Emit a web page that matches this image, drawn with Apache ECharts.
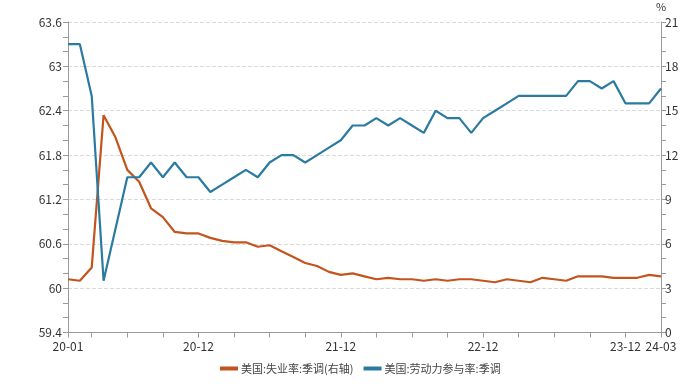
<!DOCTYPE html>
<html><head><meta charset="utf-8">
<script src="https://cdn.jsdelivr.net/npm/echarts@6/dist/echarts.min.js"></script>
<style>html,body{margin:0;padding:0;background:#fff}#c{width:685px;height:390px}</style>
</head><body><div id="c"></div>
<script>
const categories = (function(){const a=[];for(let y=20;y<=24;y++){for(let m=1;m<=12;m++){if(y===24&&m>3)break;a.push(y+'-'+String(m).padStart(2,'0'));}}return a;})();
const labelIdx = [0, 11, 23, 35, 47, 50];
const unemployment = [3.6,3.5,4.4,14.7,13.2,11.0,10.2,8.4,7.8,6.8,6.7,6.7,
  6.4,6.2,6.1,6.1,5.8,5.9,5.5,5.1,4.7,4.5,4.1,3.9,
  4.0,3.8,3.6,3.7,3.6,3.6,3.5,3.6,3.5,3.6,3.6,3.5,
  3.4,3.6,3.5,3.4,3.7,3.6,3.5,3.8,3.8,3.8,3.7,3.7,
  3.7,3.9,3.8];
const participation = [63.3,63.3,62.6,60.1,60.8,61.5,61.5,61.7,61.5,61.7,61.5,61.5,
  61.3,61.4,61.5,61.6,61.5,61.7,61.8,61.8,61.7,61.8,61.9,62.0,
  62.2,62.2,62.3,62.2,62.3,62.2,62.1,62.4,62.3,62.3,62.1,62.3,
  62.4,62.5,62.6,62.6,62.6,62.6,62.6,62.8,62.8,62.7,62.8,62.5,
  62.5,62.5,62.7];
const leftTicks = {min:59.4, max:63.6, interval:0.6};
const rightTicks = {min:0, max:21, interval:3};

const font = '"Noto Sans CJK SC", "Noto Sans", sans-serif';
const axisGrey = '#9a9a9a';
const chart = echarts.init(document.getElementById('c'));
chart.setOption({
  animation:false,
  textStyle:{fontFamily:font},
  grid:{left:68, right:24, top:22, bottom:57.5},
  legend:{
    top:358, left:215, itemWidth:18, itemHeight:4, itemGap:10,
    icon:'rect',
    textStyle:{fontFamily:font, fontSize:11, color:'#444', padding:[0,0,0,-2]},
    data:['美国:失业率:季调(右轴)','美国:劳动力参与率:季调']
  },
  xAxis:{
    type:'category', data:categories, boundaryGap:false,
    axisLine:{lineStyle:{color:axisGrey}},
    axisTick:{show:true, length:5, lineStyle:{color:axisGrey}, interval:function(i){return i===0 || i%3===2;}},
    axisLabel:{color:'#333', fontSize:12, fontFamily:font, margin:8,
      interval:function(i){return labelIdx.indexOf(i)>=0;}},
    splitLine:{show:false}
  },
  yAxis:[{
    type:'value', position:'left', min:leftTicks.min, max:leftTicks.max, interval:leftTicks.interval,
    axisLine:{show:true, lineStyle:{color:axisGrey}},
    axisTick:{show:true, length:5, lineStyle:{color:axisGrey}},
    minorTick:{show:true, splitNumber:3, length:5, lineStyle:{color:axisGrey}},
    axisLabel:{color:'#333', fontSize:12, fontFamily:font, margin:6,
      formatter:function(v){return String(Math.round(v*10)/10);}},
    splitLine:{show:true, lineStyle:{color:'#d9d9d9', type:'dashed'}}
  },{
    type:'value', position:'right', min:rightTicks.min, max:rightTicks.max, interval:rightTicks.interval,
    name:'%', nameLocation:'end', nameGap:10,
    nameTextStyle:{color:'#333', fontSize:11, fontFamily:font, align:'center', padding:[0,0,0,0]},
    axisLine:{show:true, lineStyle:{color:axisGrey}},
    axisTick:{show:true, length:5, lineStyle:{color:axisGrey}},
    minorTick:{show:true, splitNumber:3, length:5, lineStyle:{color:axisGrey}},
    axisLabel:{color:'#333', fontSize:12, fontFamily:font, margin:4},
    splitLine:{show:false}
  }],
  series:[{
    name:'美国:失业率:季调(右轴)', type:'line', yAxisIndex:1, data:unemployment,
    symbol:'none', lineStyle:{width:2.2, color:'#C2551E'}, itemStyle:{color:'#C2551E'}
  },{
    name:'美国:劳动力参与率:季调', type:'line', yAxisIndex:0, data:participation,
    symbol:'none', lineStyle:{width:2.2, color:'#2B7AA0'}, itemStyle:{color:'#2B7AA0'}
  }]
});
</script></body></html>
